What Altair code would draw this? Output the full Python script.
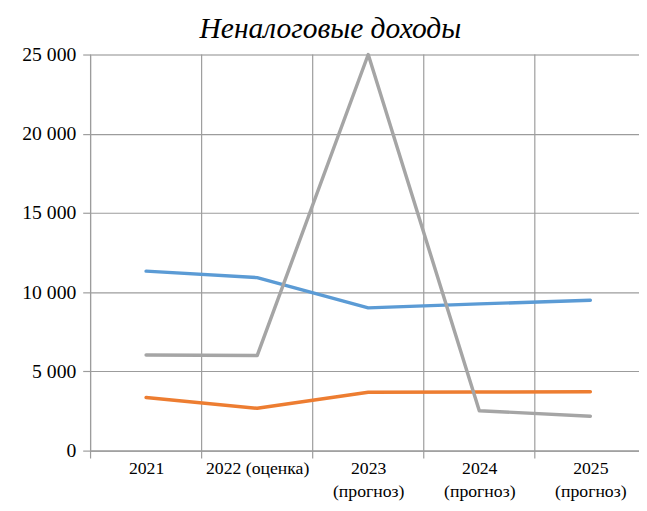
import json
import altair as alt
import pandas as pd

# ---- data ----
categories = ["2021", "2022 (оценка)", "2023 (прогноз)", "2024 (прогноз)", "2025 (прогноз)"]
category_label_lines = [["2021"], ["2022 (оценка)"], ["2023", "(прогноз)"],
                        ["2024", "(прогноз)"], ["2025", "(прогноз)"]]
series_names = ["Ряд 1", "Ряд 2", "Ряд 3"]
blue_values = [11330, 10920, 9010, 9260, 9490]
orange_values = [3350, 2670, 3680, 3700, 3720]
gray_values = [6040, 6000, 25000, 2520, 2170]
series_colors = ["#5B9BD5", "#ED7D31", "#A5A5A5"]
y_ticks = [0, 5000, 10000, 15000, 20000, 25000]
title_text = "Неналоговые доходы"

rows = []
for name, vals in zip(series_names, [blue_values, orange_values, gray_values]):
    for i, (cat, v) in enumerate(zip(categories, vals)):
        rows.append({"idx": i, "cat": cat, "series": name, "value": v})
df = pd.DataFrame(rows)

# category boundaries (vertical grid lines between categories)
boundaries = [i - 0.5 for i in range(len(categories))]
df_b = pd.DataFrame({"b": boundaries})

W = 558
H = 403
GRID = "#9C9C9C"
FONT = "Liberation Serif"
x_domain = [-0.5, -0.5 + W / 113.0]

label_expr = json.dumps(category_label_lines, ensure_ascii=False) + "[datum.value]"

x_scale = alt.Scale(domain=x_domain, nice=False, zero=False)
y_scale = alt.Scale(domain=[0, 25000], nice=False)

grid_rules = alt.Chart(df_b).mark_rule(color=GRID, strokeWidth=1.2).encode(
    x=alt.X("b:Q", scale=x_scale, title=None),
    y=alt.value(0),
    y2=alt.value(H + 8),
)

lines = alt.Chart(df).mark_line(strokeWidth=3.5, strokeCap="round", strokeJoin="round").encode(
    x=alt.X("idx:Q", scale=x_scale, title=None,
            axis=alt.Axis(values=list(range(len(categories))), labelExpr=label_expr,
                          grid=False, ticks=False, domain=True, domainColor=GRID,
                          domainWidth=1.2, labelPadding=9, labelFont=FONT,
                          labelFontSize=18, labelLineHeight=24,
                          labelBaseline="top", labelOverlap=False, labelFlush=False)),
    y=alt.Y("value:Q", scale=y_scale, title=None,
            axis=alt.Axis(values=y_ticks, grid=True, gridColor=GRID, gridWidth=1.2,
                          tickSize=8, tickColor=GRID, tickWidth=1.2, domain=False,
                          labelPadding=7, labelFont=FONT, labelFontSize=20,
                          labelExpr="replace(format(datum.value, ','), ',', ' ')")),
    color=alt.Color("series:N", scale=alt.Scale(domain=series_names, range=series_colors),
                    legend=None),
)

chart = alt.layer(grid_rules, lines).properties(
    width=W,
    height=H,
    padding={"left": 14, "top": 2, "right": 0, "bottom": 0},
    title=alt.Title(title_text, font=FONT, fontSize=30, fontStyle="italic",
                    fontWeight="normal", color="#000", anchor="middle",
                    frame="bounds", offset=1),
).configure_view(stroke=None).configure(
    background="white", font=FONT
).configure_axis(labelFont=FONT, labelColor="#000")

chart.save("out.html", embed_options={"renderer": "svg", "actions": False})
